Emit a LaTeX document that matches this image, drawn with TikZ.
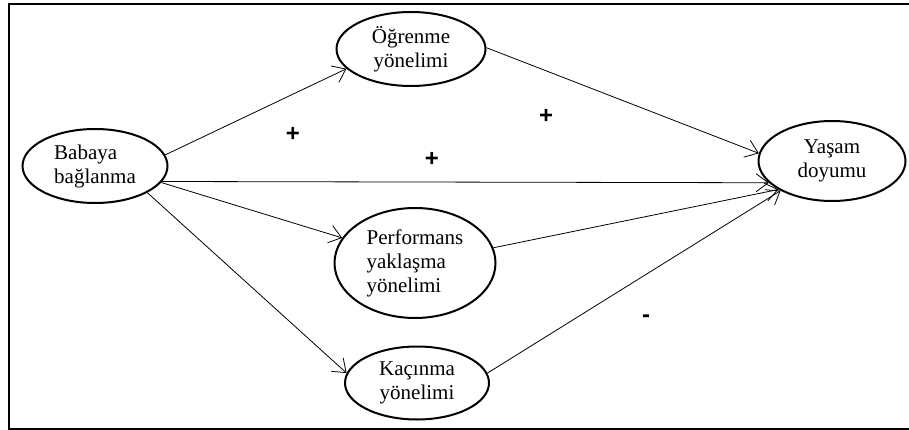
\documentclass[tikz,border=0pt]{standalone}
\usepackage{fontspec}
\setmainfont{Liberation Serif}
\newfontfamily\signfont{Liberation Sans}
\usetikzlibrary{shapes.geometric, arrows.meta}
\tikzset{
  >={Straight Barb[length=12pt,width=18pt]},
  construct/.style={ellipse, draw, line width=2pt, inner sep=0pt,
    font=\fontsize{21}{24}\selectfont},
  path/.style={->, line width=0.8pt},
  sign/.style={font=\signfont\bfseries\fontsize{24}{24}\selectfont, inner sep=0pt},
}

\begin{document}
\begin{tikzpicture}[x=1pt, y=-1pt]
		\useasboundingbox (0,0) rectangle (909,430);
		\draw[line width=2pt] (9,4) rectangle (920,429);

		% constructs
		\node[construct, minimum width=145pt, minimum height=74pt, align=left] (bab) at (95,166) {Babaya\\bağlanma};
		\node[construct, minimum width=149pt, minimum height=74pt, align=center] (ogr) at (411,49) {Öğrenme\\yönelimi};
		\node[construct, minimum width=161pt, minimum height=110pt, align=left] (perf) at (415,263) {Performans\\yaklaşma\\yönelimi};
		\node[construct, minimum width=144pt, minimum height=73pt, align=center] (kac) at (417,383) {Kaçınma\\yönelimi};
		\node[construct, minimum width=147pt, minimum height=80pt, align=center] (yas) at (832,161) {Yaşam\\doyumu};

		% paths
		\draw[path] (bab.9) -- (ogr.197);
		\draw[path] (bab.-13) -- (yas.199);
		\draw[path] (bab.-14) -- (perf.161);
		\draw[path] (bab.-27) -- (kac.172);
		\draw[path] (ogr.1) -- (yas.174);
		\draw[path] (perf.11) -- (yas.208);
		\draw[path] (kac.8) -- (yas.210);

		% signs
		\node[sign] (s1) at (293,134) {+};
		\node[sign] (s2) at (432,159) {+};
		\node[sign] (s3) at (546,116) {+};
		\node[sign] (s4) at (646,319) {-};

	\end{tikzpicture}
\end{document}
